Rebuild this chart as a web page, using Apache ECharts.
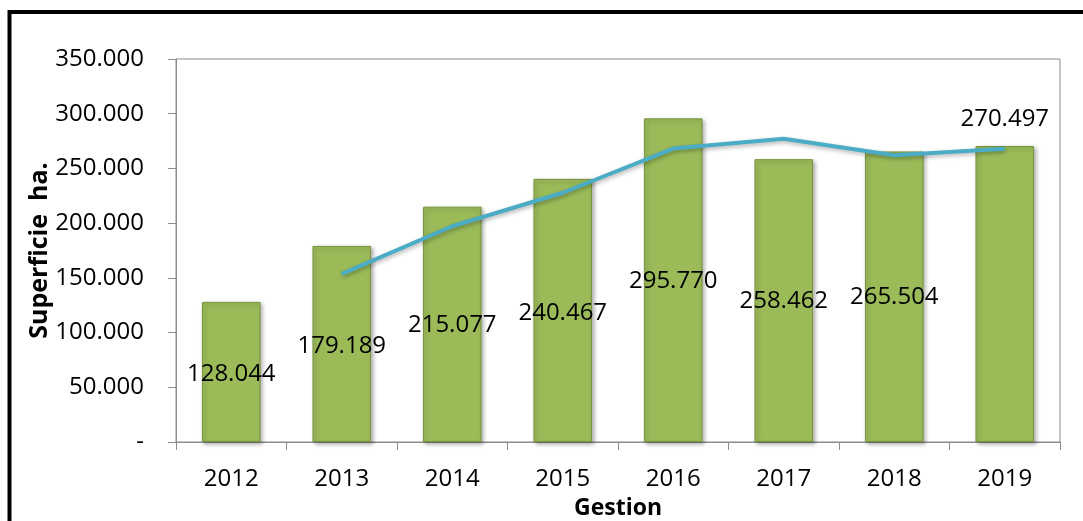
<!DOCTYPE html>
<html>
<head>
<meta charset="utf-8">
<script src="https://cdn.jsdelivr.net/npm/echarts@6/dist/echarts.min.js"></script>
<style>
  html, body { margin: 0; padding: 0; background: #fff; }
  #report { width: 1083px; height: 521px; }
</style>
</head>
<body>
<div id="report"></div>
<script>
// datos
var years = ['2012', '2013', '2014', '2015', '2016', '2017', '2018', '2019'];
var superficie = [128044, 179189, 215077, 240467, 295770, 258462, 265504, 270497];
// tendencia
var tendencia = [null, 153617, 197133, 227772, 268119, 277116, 261983, 268001];
var yTicks = [0, 50000, 100000, 150000, 200000, 250000, 300000, 350000];

// desplazamiento vertical de cada etiqueta respecto al tope de la barra (px)
var labelDy = [72, 100, 119, 134, 163, 142, 146, -27];

var FONT = '"Open Sans", "Liberation Sans", sans-serif';

function fmt(v) {
    if (v === 0) return '-';
    return String(v).replace(/\B(?=(\d{3})+(?!\d))/g, '.');
}

var myChart = echarts.init(document.getElementById('report'));

var barData = superficie.map(function (v, i) {
    return {
        value: v,
        label: {
            show: true,
            position: ['50%', labelDy[i]],
            align: 'center',
            verticalAlign: 'middle'
        }
    };
});

var option = {
    animation: false,
    textStyle: { fontFamily: FONT },
    graphic: [{
        type: 'rect',
        shape: { x: 9.5, y: 12, width: 1200, height: 700 },
        style: { fill: 'none', stroke: '#000', lineWidth: 4 },
        silent: true
    }],
    grid: {
        left: 176,
        top: 59,
        right: 23,
        bottom: 79,
        outerBoundsMode: 'none',
        containLabel: false,
        show: true,
        borderColor: '#8c8c8c',
        borderWidth: 1,
        backgroundColor: 'transparent'
    },
    xAxis: {
        type: 'category',
        data: years,
        name: 'Gestion',
        nameLocation: 'middle',
        nameGap: 55,
        nameMoveOverlap: false,
        nameTextStyle: { fontSize: 23, fontWeight: 'bold', color: '#000', fontFamily: FONT },
        axisLine: { lineStyle: { color: '#8c8c8c', width: 1 } },
        axisTick: { show: true, length: 8, lineStyle: { color: '#8c8c8c' } },
        axisLabel: { fontSize: 24, color: '#000', margin: 25, fontFamily: FONT }
    },
    yAxis: {
        type: 'value',
        min: yTicks[0],
        max: yTicks[yTicks.length - 1],
        interval: yTicks[1] - yTicks[0],
        name: 'Superficie  ha.',
        nameLocation: 'middle',
        nameGap: 124,
        nameRotate: 90,
        nameMoveOverlap: false,
        nameTextStyle: { fontSize: 25, fontWeight: 'bold', color: '#000', fontFamily: FONT },
        axisLine: { show: true, lineStyle: { color: '#8c8c8c', width: 1 } },
        axisTick: { show: true, length: 8, lineStyle: { color: '#8c8c8c' } },
        splitLine: { show: false },
        axisLabel: {
            fontSize: 24, color: '#000', margin: 32, fontFamily: FONT,
            formatter: function (v) { return fmt(v); }
        }
    },
    series: [{
        type: 'bar',
        data: barData,
        barWidth: '53%',
        itemStyle: {
            color: '#9BBB59',
            borderColor: '#77933C',
            borderWidth: 1,
            shadowColor: 'rgba(0,0,0,0.3)',
            shadowBlur: 4,
            shadowOffsetX: 2,
            shadowOffsetY: 2
        },
        label: {
            fontSize: 24,
            color: '#000',
            fontFamily: FONT,
            formatter: function (p) { return fmt(p.value); }
        },
        z: 2
    }, {
        type: 'line',
        data: tendencia,
        showSymbol: false,
        symbol: 'none',
        lineStyle: {
            color: '#4BACC6',
            width: 4,
            shadowColor: 'rgba(0,0,0,0.3)',
            shadowBlur: 4,
            shadowOffsetX: 1,
            shadowOffsetY: 2
        },
        z: 3
    }]
};

myChart.setOption(option);
</script>
</body>
</html>
